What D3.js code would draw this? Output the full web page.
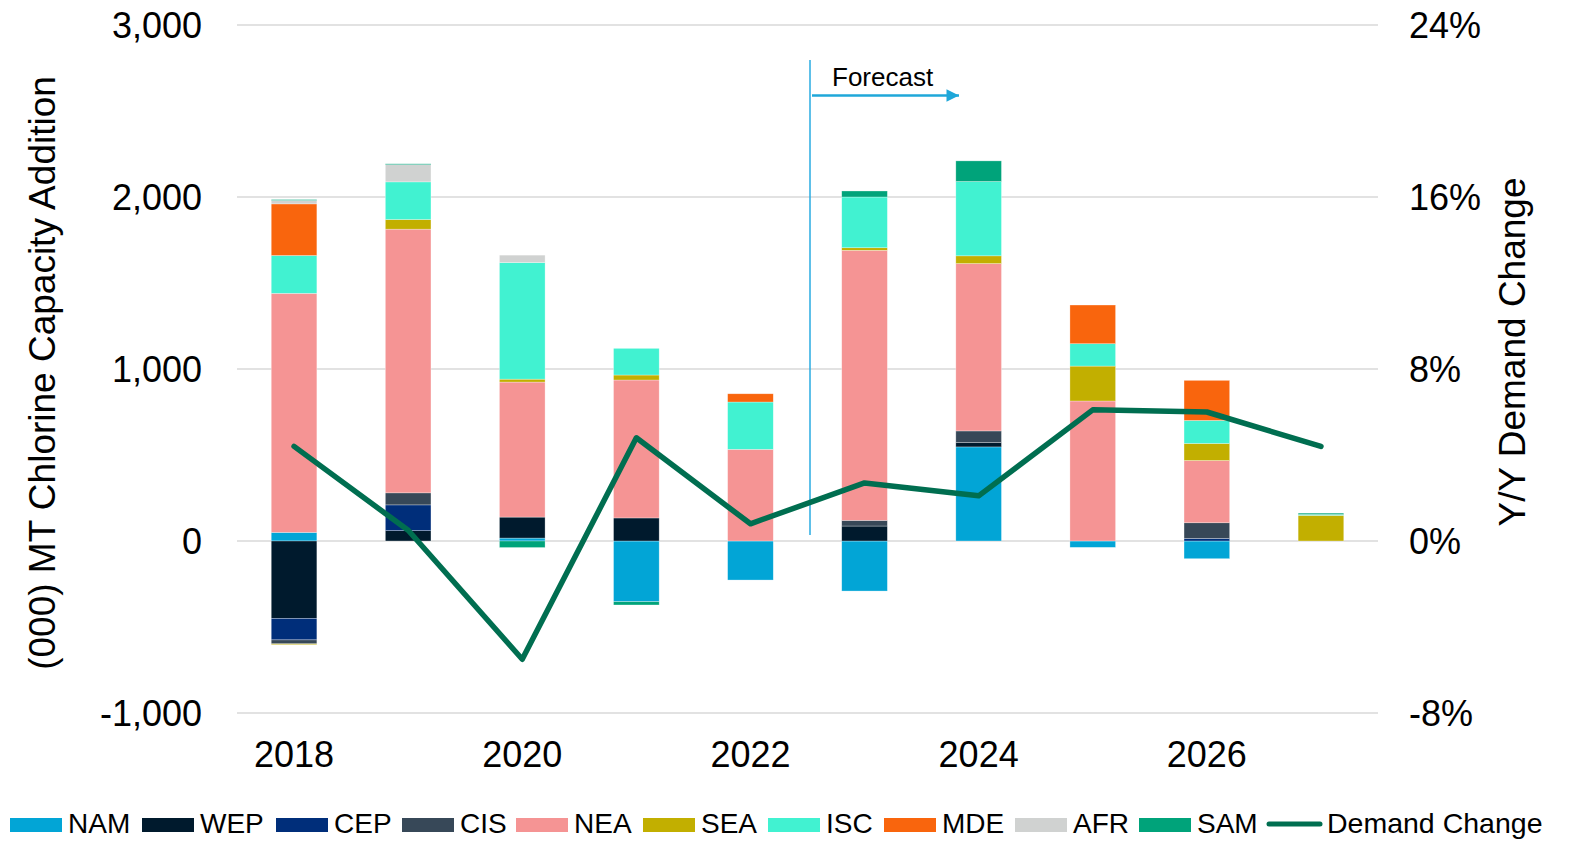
<!DOCTYPE html>
<html>
<head>
<meta charset="utf-8">
<script src="https://cdn.jsdelivr.net/npm/d3@7"></script>
<style>
  body { margin: 0; background: #fff; }
  text { font-family: "Liberation Sans", Arial, sans-serif; fill: #000; }
</style>
</head>
<body>
<div id="chart"></div>
<script>
// years on the x axis, only even ones get a label
var years = [2018, 2019, 2020, 2021, 2022, 2023, 2024, 2025, 2026, 2027];
var yearLabels = [2018, 2020, 2022, 2024, 2026];

// capacity additions, (000) MT, by region
var regions = ['NAM', 'WEP', 'CEP', 'CIS', 'NEA', 'SEA', 'ISC', 'MDE', 'AFR', 'SAM'];
var NAM = [50, 0, 17, -353, -227, -291, 547, -37, -103, 0];
var WEP = [-450, 60, 122, 134, 0, 87, 25, 0, 0, 0];
var CEP = [-125, 150, 0, 0, 0, 0, 0, 0, 15, 0];
var CIS = [-23, 70, 0, 0, 0, 33, 68, 0, 91, 0];
var NEA = [1390, 1533, 785, 802, 533, 1570, 973, 814, 362, 0];
var SEA = [-5, 56, 17, 29, 0, 15, 45, 203, 99, 149];
var ISC = [220, 219, 678, 155, 275, 295, 432, 130, 134, 5];
var MDE = [300, 0, 0, 0, 48, 0, 0, 225, 233, 0];
var AFR = [20, 100, 43, 0, 0, 0, 0, 0, 0, 0];
var SAM = [5, 5, -38, -19, 0, 35, 120, 0, 0, 8];

// Y/Y demand change, %
var demandChange = [4.4, 0.5, -5.5, 4.8, 0.8, 2.7, 2.1, 6.1, 6.0, 4.4];

var leftTicks = [-1000, 0, 1000, 2000, 3000];
var rightTicks = [-8, 0, 8, 16, 24];

var colors = {
  NAM: '#02A5D6', WEP: '#001A2D', CEP: '#002E7A', CIS: '#374858', NEA: '#F59494',
  SEA: '#C2AF00', ISC: '#41F2D1', MDE: '#F9650D', AFR: '#D0D2D1', SAM: '#00A37A'
};
var lineColor = '#006E50';

var seriesData = { NAM: NAM, WEP: WEP, CEP: CEP, CIS: CIS, NEA: NEA, SEA: SEA, ISC: ISC, MDE: MDE, AFR: AFR, SAM: SAM };
var rows = years.map(function(y, i){
  var r = { year: y };
  regions.forEach(function(k){ r[k] = seriesData[k][i]; });
  return r;
});

var W = 1573, H = 842;
var svg = d3.select('#chart').append('svg')
    .attr('width', W)
    .attr('height', H)
    .style('background', '#fff');

var x = d3.scaleBand()
    .domain(years)
    .range([237, 1378])
    .paddingInner(0.6)
    .paddingOuter(0.3);

var y = d3.scaleLinear().domain([-1000, 3000]).range([713, 25]);
var y2 = d3.scaleLinear().domain([-8, 24]).range([713, 25]);

// gridlines
svg.append('g').selectAll('line')
    .data(leftTicks)
    .join('line')
    .attr('x1', 237).attr('x2', 1378)
    .attr('y1', function(d){ return y(d); })
    .attr('y2', function(d){ return y(d); })
    .style('stroke', '#D9D9D9')
    .style('stroke-width', 1.5);

// left axis (plain hyphen for negatives, like the source)
var comma = d3.format(',');
var yAxis = d3.axisLeft(y).tickValues(leftTicks).tickSize(0).tickPadding(0)
    .tickFormat(function(d){ return comma(d).replace('\u2212', '-'); });
var gy = svg.append('g').attr('transform', 'translate(202,0)').call(yAxis);
gy.select('.domain').remove();
gy.selectAll('text').style('font-size', '36px').attr('dy', '0.35em')
    .style('font-family', '"Liberation Sans", Arial, sans-serif');

// right axis
var y2Axis = d3.axisRight(y2).tickValues(rightTicks).tickSize(0).tickPadding(0)
    .tickFormat(function(d){ return d + '%'; });
var gy2 = svg.append('g').attr('transform', 'translate(1409,0)').call(y2Axis);
gy2.select('.domain').remove();
gy2.selectAll('text').style('font-size', '36px').attr('dy', '0.35em')
    .style('font-family', '"Liberation Sans", Arial, sans-serif');

// bottom axis
var xAxis = d3.axisBottom(x).tickSize(0).tickPadding(0)
    .tickFormat(function(d){ return yearLabels.indexOf(d) >= 0 ? d : ''; });
var gx = svg.append('g').attr('transform', 'translate(0,767)').call(xAxis);
gx.select('.domain').remove();
gx.selectAll('text').style('font-size', '36px').attr('dy', '0')
    .style('font-family', '"Liberation Sans", Arial, sans-serif');

// axis titles
svg.append('text')
    .text('(000) MT Chlorine Capacity Addition')
    .attr('text-anchor', 'middle')
    .attr('transform', 'translate(55,373) rotate(-90)')
    .style('font-size', '37px');
svg.append('text')
    .text('Y/Y Demand Change')
    .attr('text-anchor', 'middle')
    .attr('transform', 'translate(1525,352) rotate(-90)')
    .style('font-size', '37px');

// stacked bars
var stack = d3.stack().keys(regions).offset(d3.stackOffsetDiverging);
var layers = stack(rows);

svg.append('g').selectAll('g')
    .data(layers)
    .join('g')
    .style('fill', function(d){ return colors[d.key]; })
    .selectAll('rect')
    .data(function(d){ return d.filter(function(s){ return s[1] !== s[0]; }); })
    .join('rect')
    .attr('x', function(d){ return x(d.data.year); })
    .attr('width', x.bandwidth())
    .attr('y', function(d){ return y(d[1]); })
    .attr('height', function(d){ return y(d[0]) - y(d[1]); })
    .style('stroke', '#fff')
    .style('stroke-opacity', 0.5)
    .style('stroke-width', 0.6);

// forecast marker
svg.append('line')
    .attr('x1', 810).attr('x2', 810).attr('y1', 60).attr('y2', 535)
    .style('stroke', '#29ABE2').style('stroke-width', 1.5);
svg.append('defs').append('marker')
    .attr('id', 'arrow')
    .attr('viewBox', '0 0 10 10')
    .attr('refX', 10).attr('refY', 5)
    .attr('markerWidth', 6).attr('markerHeight', 5)
    .attr('markerUnits', 'strokeWidth')
    .attr('orient', 'auto')
    .append('path')
    .attr('d', 'M0,0 L10,5 L0,10 Z')
    .style('fill', '#1FA7D9');
svg.append('line')
    .attr('x1', 812).attr('x2', 959).attr('y1', 95.5).attr('y2', 95.5)
    .style('stroke', '#1FA7D9').style('stroke-width', 2.5)
    .attr('marker-end', 'url(#arrow)');
svg.append('text')
    .text('Forecast')
    .attr('x', 832).attr('y', 86)
    .style('font-size', '26px');

// demand change line
var line = d3.line()
    .x(function(d, i){ return x(years[i]) + x.bandwidth() / 2; })
    .y(function(d){ return y2(d); });
svg.append('path')
    .datum(demandChange)
    .attr('d', line)
    .style('fill', 'none')
    .style('stroke', lineColor)
    .style('stroke-width', 5.5)
    .style('stroke-linecap', 'round')
    .style('stroke-linejoin', 'round');

// legend
var legendPos = [10, 142, 276, 402, 516, 643, 768, 884, 1015, 1139];
var lg = svg.append('g');
regions.forEach(function(k, i){
  lg.append('rect')
      .attr('x', legendPos[i]).attr('y', 818)
      .attr('width', 52).attr('height', 14)
      .style('fill', colors[k]);
  lg.append('text')
      .text(k)
      .attr('x', legendPos[i] + 58).attr('y', 833)
      .style('font-size', '28px');
});
lg.append('line')
    .attr('x1', 1269).attr('x2', 1320).attr('y1', 824).attr('y2', 824)
    .style('stroke', lineColor).style('stroke-width', 5).style('stroke-linecap', 'round');
lg.append('text')
    .text('Demand Change')
    .attr('x', 1327).attr('y', 833)
    .style('font-size', '28.5px');
</script>
</body>
</html>
